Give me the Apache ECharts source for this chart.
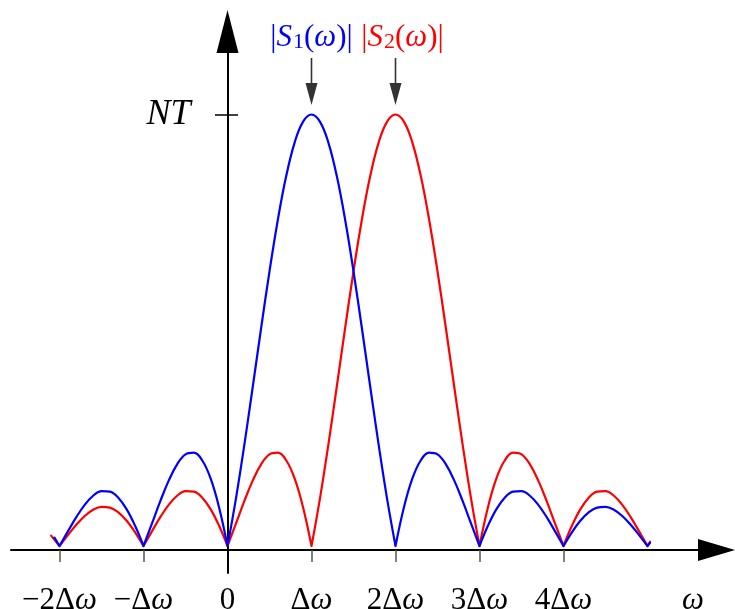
<!DOCTYPE html>
<html><head><meta charset="utf-8">
<script src="https://cdn.jsdelivr.net/npm/echarts@6/dist/echarts.min.js"></script>
<style>html,body{margin:0;padding:0;background:#fff}#c{width:735px;height:609px}</style>
</head><body><div id="c"></div>
<script>
// ---- data (x in units of Δω, y in units of NT) ----
const omegaS1 = [-2.06,-2.0,-1.9,-1.8,-1.7,-1.6,-1.5,-1.4,-1.3,-1.2,-1.1,
  -1.0,-0.9,-0.8,-0.7,-0.6,-0.5,-0.4,-0.3,-0.2,-0.1,
  0.0,0.1,0.2,0.3,0.4,0.5,0.6,0.7,0.8,0.9,
  1.0,1.1,1.2,1.3,1.4,1.5,1.6,1.7,1.8,1.9,
  2.0,2.1,2.2,2.3,2.4,2.5,2.6,2.7,2.8,2.9,
  3.0,3.1,3.2,3.3,3.4,3.5,3.6,3.7,3.8,3.9,
  4.0,4.1,4.2,4.3,4.4,4.5,4.6,4.7,4.8,4.9,
  5.0,5.03];
const s1Values = [0.0195,0,0.0339,0.0668,0.0954,0.1164,0.1273,0.1261,0.1120,0.0850,0.0468,
  0,0.0518,0.1039,0.1515,0.1892,0.2122,0.2162,0.1981,0.1559,0.0894,
  0,0.1093,0.2339,0.3679,0.5046,0.6366,0.7568,0.8584,0.9355,0.9836,
  1,0.9836,0.9355,0.8584,0.7568,0.6366,0.5046,0.3679,0.2339,0.1093,
  0,0.0894,0.1559,0.1981,0.2162,0.2122,0.1892,0.1515,0.1039,0.0518,
  0,0.0468,0.0850,0.1120,0.1261,0.1273,0.1164,0.0954,0.0668,0.0339,
  0,0.0317,0.0585,0.0780,0.0890,0.0909,0.0841,0.0696,0.0492,0.0252,
  0,0.0074];
const omegaS2 = [-2.1,-2.0,-1.9,-1.8,-1.7,-1.6,-1.5,-1.4,-1.3,-1.2,-1.1,
  -1.0,-0.9,-0.8,-0.7,-0.6,-0.5,-0.4,-0.3,-0.2,-0.1,
  0.0,0.1,0.2,0.3,0.4,0.5,0.6,0.7,0.8,0.9,
  1.0,1.1,1.2,1.3,1.4,1.5,1.6,1.7,1.8,1.9,
  2.0,2.1,2.2,2.3,2.4,2.5,2.6,2.7,2.8,2.9,
  3.0,3.1,3.2,3.3,3.4,3.5,3.6,3.7,3.8,3.9,
  4.0,4.1,4.2,4.3,4.4,4.5,4.6,4.7,4.8,4.9,
  5.0,5.03];
const s2Values = [0.0240,0,0.0252,0.0492,0.0696,0.0841,0.0909,0.0890,0.0780,0.0585,0.0317,
  0,0.0339,0.0668,0.0954,0.1164,0.1273,0.1261,0.1120,0.0850,0.0468,
  0,0.0518,0.1039,0.1515,0.1892,0.2122,0.2162,0.1981,0.1559,0.0894,
  0,0.1093,0.2339,0.3679,0.5046,0.6366,0.7568,0.8584,0.9355,0.9836,
  1,0.9836,0.9355,0.8584,0.7568,0.6366,0.5046,0.3679,0.2339,0.1093,
  0,0.0894,0.1559,0.1981,0.2162,0.2122,0.1892,0.1515,0.1039,0.0518,
  0,0.0468,0.0850,0.1120,0.1261,0.1273,0.1164,0.0954,0.0668,0.0339,
  0,0.0099];
const xTickValues = [-2,-1,1,2,3,4];
const xLabelValues = [-2,-1,0,1,2,3,4,5.54];
const xLabelTexts = ['−2Δω','−Δω','0','Δω','2Δω','3Δω','4Δω','ω'];
const yLabelValues = [1];
const yLabelTexts = ['NT'];
const seriesNames = ['|S1(ω)|','|S2(ω)|'];

// ---- layout ----
const W = 735, H = 609;
const zeroX = 227.5, pxPerX = 84;
const gridLeft = 11, gridRightPx = 716.5;
const zeroY = 546, pxPerY = 431.5;
const gridTopPx = 31.5, gridBottomPx = 573;
const xMin = (gridLeft - zeroX) / pxPerX, xMax = (gridRightPx - zeroX) / pxPerX;
const yMin = -(gridBottomPx - zeroY) / pxPerY, yMax = (zeroY - gridTopPx) / pxPerY;
const yAxisOffset = -(zeroX - gridLeft);   // moves the left axis onto ω = 0

// split each curve at its zeros so every lobe ends in a sharp cusp
function lobes(xs, ys) {
  const out = [];
  for (let k = 0; k < xs.length; k++) {
    out.push([xs[k], ys[k]]);
    if (ys[k] === 0 && k > 0 && k < xs.length - 1) {
      out.push([xs[k], null]);
      out.push([xs[k], ys[k]]);
    }
  }
  return out;
}

const FONT = 'Liberation Serif';
function richify(t) {
  let out = '';
  for (const ch of t) {
    if ('ωNTS'.includes(ch)) out += '{i|' + ch + '}';
    else out += '{n|' + ch + '}';
  }
  return out;
}
function richSeriesLabel(t) {
  let out = '';
  for (const ch of t) {
    if (/[0-9]/.test(ch)) out += '{s|' + ch + '}';
    else if ('ωS'.includes(ch)) out += '{i|' + ch + '}';
    else out += '{n|' + ch + '}';
  }
  return out;
}
function labelRich(color, size) {
  return {
    n: { fontFamily: FONT, fontSize: size, color: color, lineHeight: size + 6 },
    i: { fontFamily: FONT, fontSize: size, fontStyle: 'italic', color: color, lineHeight: size + 6 },
    s: { fontFamily: FONT, fontSize: Math.round(size * 0.7), color: color, padding: [9, 0, 0, 1] }
  };
}
const arrowPath = 'path://M5.2 0 H6.8 V26 H5.2 Z M0 25 H12 L6 47 Z';

const chart = echarts.init(document.getElementById('c'), null, { renderer: 'canvas' });
chart.setOption({
  animation: false,
  backgroundColor: '#fff',
  grid: { left: gridLeft, right: W - gridRightPx, top: gridTopPx, bottom: H - gridBottomPx,
    containLabel: false, outerBoundsMode: 'none' },
  xAxis: [{
    type: 'value', min: xMin, max: xMax,
    offset: -(gridBottomPx - 550),
    axisLine: { show: true, onZero: false, lineStyle: { color: '#000', width: 2 },
      symbol: ['none', 'triangle'], symbolSize: [22, 37] },
    axisTick: { show: true, customValues: xTickValues, length: 12, lineStyle: { color: '#555', width: 1.5 } },
    axisLabel: { show: true, customValues: xLabelValues, margin: 32, hideOverlap: false,
      formatter: v => richify(xLabelTexts[xLabelValues.indexOf(v)] || ''),
      rich: labelRich('#000', 31) },
    splitLine: { show: false }
  }],
  yAxis: [{
    type: 'value', min: yMin, max: yMax, position: 'left', offset: yAxisOffset,
    axisLine: { show: true, onZero: false, lineStyle: { color: '#000', width: 2 },
      symbol: ['none', 'triangle'], symbolSize: [22, 43] },
    axisTick: { show: true, customValues: yLabelValues, length: 12.5, lineStyle: { color: '#000', width: 1.5 } },
    axisLabel: { show: true, customValues: yLabelValues, margin: 37,
      formatter: v => yLabelTexts[yLabelValues.indexOf(v)] || '',
      fontFamily: FONT, fontSize: 36, fontStyle: 'italic', color: '#000', padding: [9, 0, 0, 0] },
    splitLine: { show: false }
  }, {
    type: 'value', min: yMin, max: yMax, position: 'left', offset: yAxisOffset,
    axisLine: { show: false, onZero: false },
    axisTick: { show: true, inside: true, customValues: yLabelValues, length: 10.5, lineStyle: { color: '#000', width: 1.5 } },
    axisLabel: { show: false },
    splitLine: { show: false }
  }],
  series: [{
    name: seriesNames[1], type: 'line', xAxisIndex: 0, yAxisIndex: 0,
    data: lobes(omegaS2, s2Values), connectNulls: false,
    showSymbol: false, smooth: 0.4, clip: false,
    lineStyle: { color: '#ff0000', width: 2.2, cap: 'round', join: 'round' }, itemStyle: { color: '#ff0000' },
    markPoint: {
      symbol: arrowPath, symbolSize: [12, 47], symbolOffset: [0, -33],
      itemStyle: { color: '#333' },
      label: { show: true, position: 'top', distance: 2, offset: [7, 0],
        formatter: () => richSeriesLabel(seriesNames[1]), rich: labelRich('#ff0000', 31) },
      data: [{ type: 'max' }]
    }
  }, {
    name: seriesNames[0], type: 'line', xAxisIndex: 0, yAxisIndex: 0,
    data: lobes(omegaS1, s1Values), connectNulls: false,
    showSymbol: false, smooth: 0.4, clip: false,
    lineStyle: { color: '#0000ff', width: 2.2, cap: 'round', join: 'round' }, itemStyle: { color: '#0000ff' },
    markPoint: {
      symbol: arrowPath, symbolSize: [12, 47], symbolOffset: [0, -33],
      itemStyle: { color: '#333' },
      label: { show: true, position: 'top', distance: 2,
        formatter: () => richSeriesLabel(seriesNames[0]), rich: labelRich('#0000ff', 31) },
      data: [{ type: 'max' }]
    }
  }]
});
</script></body></html>
